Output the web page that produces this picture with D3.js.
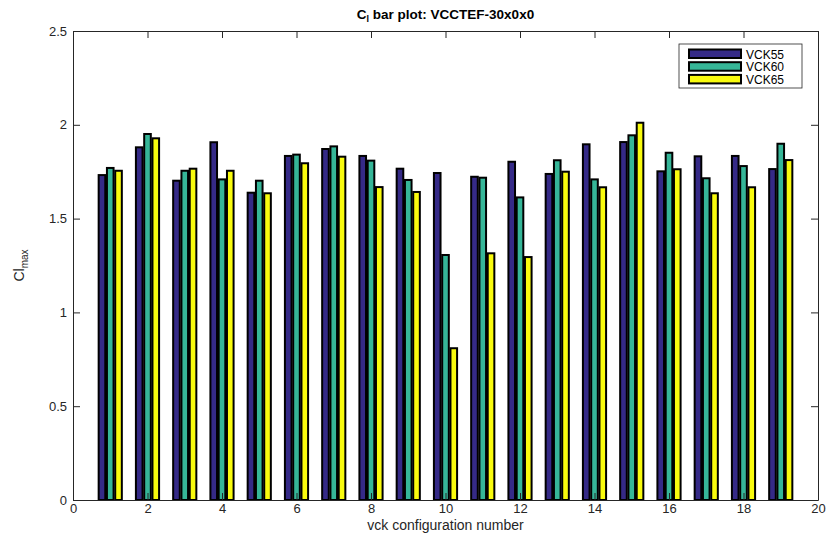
<!DOCTYPE html>
<html>
<head>
<meta charset="utf-8">
<script src="https://cdn.jsdelivr.net/npm/d3@7"></script>
<style>
  body { margin: 0; background: #fff; }
  text { font-family: "Liberation Sans", Arial, Helvetica, sans-serif; }
</style>
</head>
<body>
<div id="chart"></div>
<script>
const configs = d3.range(1, 20);
const seriesNames = ['VCK55', 'VCK60', 'VCK65'];
const vck55 = [1.732, 1.880, 1.702, 1.907, 1.638, 1.834, 1.871, 1.834, 1.766, 1.743, 1.723, 1.803, 1.738, 1.896, 1.908, 1.752, 1.832, 1.834, 1.764];
const vck60 = [1.770, 1.951, 1.755, 1.709, 1.702, 1.841, 1.885, 1.809, 1.706, 1.306, 1.718, 1.613, 1.811, 1.709, 1.944, 1.851, 1.715, 1.780, 1.899];
const vck65 = [1.755, 1.928, 1.766, 1.755, 1.635, 1.795, 1.830, 1.668, 1.642, 0.809, 1.315, 1.295, 1.750, 1.667, 2.011, 1.763, 1.635, 1.667, 1.812];
const xTicks = [0, 2, 4, 6, 8, 10, 12, 14, 16, 18, 20];
const yTicks = [0, 0.5, 1, 1.5, 2, 2.5];
const colors = ['#352a87', '#36b698', '#f9fb0e'];

const width = 828;
const height = 544;
const margin = {top: 31, left: 73, bottom: 44, right: 10};

const series = [vck55, vck60, vck65];

const x = d3.scaleLinear()
    .domain([0, 20])
    .range([margin.left, width - margin.right]);

const y = d3.scaleLinear()
    .domain([0, 2.5])
    .range([height - margin.bottom, margin.top]);

// matlab style grouped bars
const step = 2 / 9;
const barW = 0.8 * step;

const svg = d3.select('#chart').append('svg')
    .attr('width', width)
    .attr('height', height);

// bars___________________________________________________________________
series.forEach((vals, k) => {
  svg.append('g')
      .attr('fill', colors[k])
      .attr('stroke', '#000')
      .attr('stroke-width', 2)
    .selectAll('rect').data(vals).enter().append('rect')
      .attr('x', (d, i) => x(configs[i] + (k - 1) * step - barW / 2))
      .attr('y', d => y(d))
      .attr('width', x(barW) - x(0))
      .attr('height', d => y(0) - y(d));
});

// axes (box with inward ticks)____________________________________________
const axisColor = '#262626';
const tickLen = 7;

const xAxis = g => g
    .attr('transform', `translate(0, ${y(0)})`)
    .call(d3.axisBottom(x).tickValues(xTicks).tickSizeInner(-tickLen).tickSizeOuter(0).tickPadding(4))
    .call(g => g.selectAll('line, path').attr('stroke', axisColor))
    .call(g => g.selectAll('text').attr('fill', axisColor).attr('font-size', 13));

const yAxis = g => g
    .attr('transform', `translate(${x(0)}, 0)`)
    .call(d3.axisLeft(y).tickValues(yTicks).tickFormat(d3.format('')).tickSizeInner(-tickLen).tickSizeOuter(0).tickPadding(6))
    .call(g => g.selectAll('line, path').attr('stroke', axisColor))
    .call(g => g.selectAll('text').attr('fill', axisColor).attr('font-size', 13));

const xTop = g => g
    .attr('transform', `translate(0, ${y(2.5)})`)
    .call(d3.axisTop(x).tickValues(xTicks).tickSizeInner(-tickLen).tickSizeOuter(0).tickFormat(''))
    .call(g => g.selectAll('line, path').attr('stroke', axisColor));

const yRight = g => g
    .attr('transform', `translate(${x(20)}, 0)`)
    .call(d3.axisRight(y).tickValues(yTicks).tickSizeInner(-tickLen).tickSizeOuter(0).tickFormat(''))
    .call(g => g.selectAll('line, path').attr('stroke', axisColor));

svg.append('g').call(xAxis);
svg.append('g').call(yAxis);
svg.append('g').call(xTop);
svg.append('g').call(yRight);

// labels__________________________________________________________________
const title = svg.append('text')
    .attr('x', (x(0) + x(20)) / 2)
    .attr('y', 19)
    .attr('text-anchor', 'middle')
    .attr('font-size', 13.5)
    .attr('font-weight', 'bold')
    .attr('fill', '#000');
title.append('tspan').text('C');
title.append('tspan').attr('font-size', 9).attr('dy', 3).text('l');
title.append('tspan').attr('dy', -3).text(' bar plot: VCCTEF-30x0x0');

svg.append('text')
    .attr('x', (x(0) + x(20)) / 2)
    .attr('y', 530)
    .attr('text-anchor', 'middle')
    .attr('font-size', 14)
    .attr('fill', axisColor)
    .text('vck configuration number');

const ylab = svg.append('text')
    .attr('transform', `translate(24, ${(y(0) + y(2.5)) / 2}) rotate(-90)`)
    .attr('text-anchor', 'middle')
    .attr('font-size', 14)
    .attr('fill', axisColor);
ylab.append('tspan').text('Cl');
ylab.append('tspan').attr('font-size', 10).attr('dy', 4).text('max');

// legend__________________________________________________________________
const legend = svg.append('g').attr('transform', 'translate(679, 44)');
legend.append('rect')
    .attr('width', 123)
    .attr('height', 44)
    .attr('fill', '#fff')
    .attr('stroke', axisColor)
    .attr('stroke-width', 0.8);

seriesNames.forEach((name, k) => {
  const row = legend.append('g').attr('transform', `translate(0, ${4 + k * 12.7})`);
  row.append('rect')
      .attr('x', 10)
      .attr('y', 1.5)
      .attr('width', 52)
      .attr('height', 8.5)
      .attr('fill', colors[k])
      .attr('stroke', '#000')
      .attr('stroke-width', 2);
  row.append('text')
      .attr('x', 67)
      .attr('y', 10.5)
      .attr('font-size', 12)
      .attr('fill', '#000')
      .text(name);
});
</script>
</body>
</html>
